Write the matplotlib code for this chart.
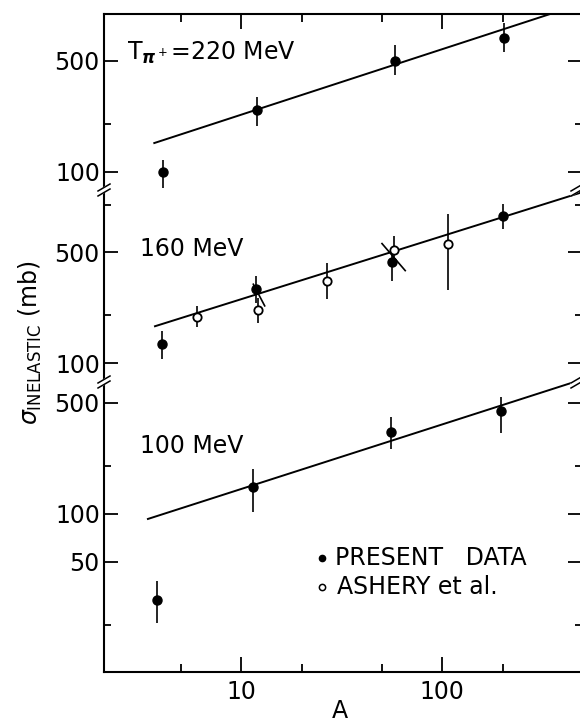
import numpy as np
import matplotlib
matplotlib.use('Agg')
import matplotlib.pyplot as plt
from matplotlib.ticker import FixedLocator, FixedFormatter, NullFormatter
from matplotlib.lines import Line2D
from matplotlib.patches import Polygon

plt.rcParams['font.family'] = 'DejaVu Sans'
plt.rcParams['mathtext.fontset'] = 'dejavusans'

# --- T = 220 MeV ---
A_220 = np.array([4.1, 12.0, 58.0, 203.0])
sig_220 = np.array([100, 245, 500, 695])
lo_220 = np.array([79, 195, 408, 568])
hi_220 = np.array([119, 296, 630, 864])
fit_A_220 = [3.7, 491]
fit_sig_220 = [152, 1140]

# --- T = 160 MeV ---
A_160 = np.array([4.05, 11.9, 56.0, 201.0])
sig_160 = np.array([132, 292, 438, 852])
lo_160 = np.array([106, 240, 332, 706])
hi_160 = np.array([159, 357, 530, 1014])
A_160_ash = np.array([6.0, 12.1, 26.8, 57.6, 107.0])
sig_160_ash = np.array([197, 215, 332, 520, 569])
lo_160_ash = np.array([168, 178, 253, 440, 288])
hi_160_ash = np.array([228, 256, 432, 639, 876])
fit_A_160 = [3.73, 491]
fit_sig_160 = [171, 1195]
# short slanted strokes drawn across the 160 MeV line
slash_A = [[11.5, 13.1], [50.2, 65.5]]
slash_sig = [[315, 230], [569, 384]]

# --- T = 100 MeV ---
A_100 = np.array([3.82, 11.5, 55.7, 197.0])
sig_100 = np.array([28.8, 148, 328, 444])
lo_100 = np.array([20.6, 103, 256, 323])
hi_100 = np.array([37.9, 192, 411, 545])
fit_A_100 = [3.44, 491]
fit_sig_100 = [93, 700]

x_major = [10, 100]
x_minor = [5, 20, 50, 200]

W, H = 580, 723
FS = 17

fig = plt.figure(figsize=(W / 100, H / 100), dpi=100)


def box(x0, y0, x1, y1):
    # pixel box (top-left origin) -> figure fraction rect
    return [x0 / W, 1 - y1 / H, (x1 - x0) / W, (y1 - y0) / H]


ax_top = fig.add_axes(box(104, 14, 582, 190))
ax_mid = fig.add_axes(box(104, 190, 582, 382))
ax_bot = fig.add_axes(box(104, 382, 582, 672))

panels = [
    (ax_top, (77, 985), [100, 500], [200]),
    (ax_mid, (76, 1240), [100, 500], [200, 1000]),
    (ax_bot, (10.1, 678), [50, 100, 500], [20, 200]),
]

for ax, ylim, ymaj, ymin in panels:
    ax.set_xscale('log')
    ax.set_yscale('log')
    ax.set_xlim(2.08, 496)
    ax.set_ylim(*ylim)
    for sp in ax.spines.values():
        sp.set_linewidth(1.5)
    ax.xaxis.set_major_locator(FixedLocator(x_major))
    ax.xaxis.set_major_formatter(FixedFormatter([str(v) for v in x_major]))
    ax.xaxis.set_minor_locator(FixedLocator(x_minor))
    ax.xaxis.set_minor_formatter(NullFormatter())
    ax.yaxis.set_major_locator(FixedLocator(ymaj))
    ax.yaxis.set_major_formatter(FixedFormatter([str(v) for v in ymaj]))
    ax.yaxis.set_minor_locator(FixedLocator(ymin))
    ax.yaxis.set_minor_formatter(NullFormatter())
    ax.tick_params(axis='y', which='both', direction='in', left=True, right=True,
                   labelsize=FS, pad=3, width=1.3)
    ax.tick_params(axis='y', which='major', length=10)
    ax.tick_params(axis='y', which='minor', length=5)
    ax.tick_params(axis='x', which='both', direction='in', top=False, bottom=False,
                   labelbottom=False, labeltop=False, labelsize=FS, width=1.3, pad=6)
    ax.tick_params(axis='x', which='major', length=11)
    ax.tick_params(axis='x', which='minor', length=6)

ax_top.spines['bottom'].set_visible(False)
ax_mid.spines['top'].set_visible(False)
ax_mid.spines['bottom'].set_visible(False)
ax_bot.spines['top'].set_visible(False)
ax_top.tick_params(axis='x', which='both', top=True)
ax_bot.tick_params(axis='x', which='both', bottom=True, labelbottom=True)

pt_kw = dict(fmt='o', color='k', ms=6.5, elinewidth=1.2, capsize=0, zorder=3)
open_kw = dict(fmt='o', color='k', mfc='white', mec='k', mew=1.3, ms=6,
               elinewidth=1.2, capsize=0, zorder=4)

# 220 MeV
ax_top.plot(fit_A_220, fit_sig_220, color='k', lw=1.4, zorder=2)
ax_top.errorbar(A_220, sig_220, yerr=[sig_220 - lo_220, hi_220 - sig_220], **pt_kw)
ax_top.text(0.048, 0.739, r'T$_{\boldsymbol{\pi}^+}$=220 MeV', transform=ax_top.transAxes,
            fontsize=FS, va='baseline')

# 160 MeV
ax_mid.plot(fit_A_160, fit_sig_160, color='k', lw=1.4, zorder=2)
for sa, ss in zip(slash_A, slash_sig):
    ax_mid.plot(sa, ss, color='k', lw=1.2, zorder=2)
ax_mid.errorbar(A_160, sig_160, yerr=[sig_160 - lo_160, hi_160 - sig_160], **pt_kw)
ax_mid.errorbar(A_160_ash, sig_160_ash,
                yerr=[sig_160_ash - lo_160_ash, hi_160_ash - sig_160_ash], **open_kw)
ax_mid.text(0.0755, 0.656, '160 MeV', transform=ax_mid.transAxes,
            fontsize=FS, va='baseline')

# 100 MeV
ax_bot.plot(fit_A_100, fit_sig_100, color='k', lw=1.4, zorder=2)
ax_bot.errorbar(A_100, sig_100, yerr=[sig_100 - lo_100, hi_100 - sig_100], **pt_kw)
ax_bot.text(0.0755, 0.755, '100 MeV', transform=ax_bot.transAxes,
            fontsize=FS, va='baseline')

# key
ax_bot.plot([0.457], [0.393], 'o', color='k', ms=4.5, transform=ax_bot.transAxes)
ax_bot.text(0.484, 0.393, 'PRESENT   DATA', transform=ax_bot.transAxes,
            fontsize=FS, va='center')
ax_bot.plot([0.457], [0.293], 'o', color='k', mfc='white', mew=1.1, ms=4.5,
            transform=ax_bot.transAxes)
ax_bot.text(0.488, 0.293, 'ASHERY et al.', transform=ax_bot.transAxes,
            fontsize=FS, va='center')

# axis titles
fig.text(30 / W, 1 - 343 / H, r'$\sigma_{\rm INELASTIC}$ (mb)', rotation=90,
         fontsize=FS, ha='center', va='center')
fig.text(340 / W, 1 - 711 / H, 'A', fontsize=FS, ha='center', va='center')


# break marks where the panels meet
def break_mark(xf, yf):
    dx, dy, gap = 6 / W, 3.5 / H, 2.5 / H
    poly = Polygon([(xf - dx, yf - dy - gap), (xf + dx, yf + dy - gap),
                    (xf + dx, yf + dy + gap), (xf - dx, yf - dy + gap)],
                   closed=True, transform=fig.transFigure, color='white', zorder=10)
    fig.add_artist(poly)
    for s in (-gap, gap):
        fig.add_artist(Line2D([xf - dx, xf + dx], [yf - dy + s, yf + dy + s],
                              transform=fig.transFigure, color='k', lw=1.1, zorder=11))


for ax in (ax_mid, ax_bot):
    pos = ax.get_position()
    break_mark(pos.x0, pos.y1)
    break_mark(pos.x1 - 5 / W, pos.y1)

fig.savefig('out.png', dpi=100)
